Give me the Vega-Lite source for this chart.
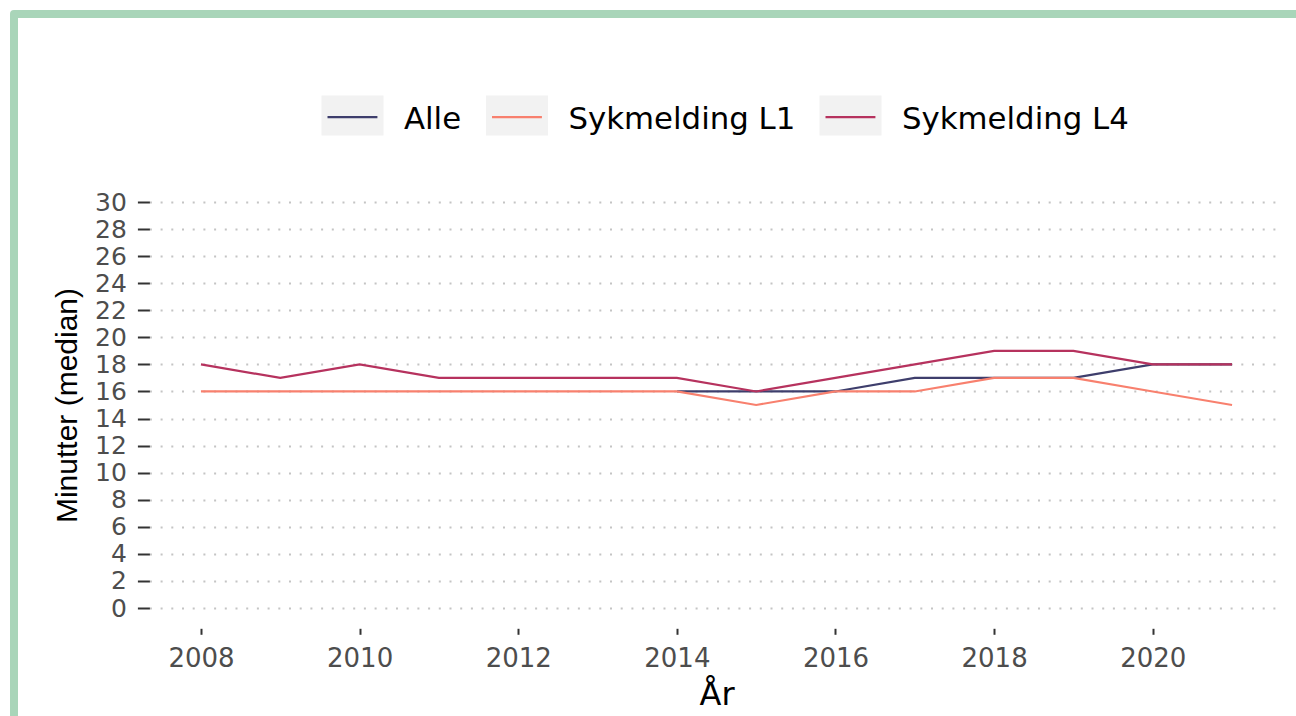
{
  "$schema": "https://vega.github.io/schema/vega-lite/v6.json",
  "width": 1286,
  "height": 706,
  "autosize": {"type": "none"},
  "padding": {"left": 14, "top": 14, "right": -4, "bottom": -4},
  "background": "white",
  "config": {
    "view": {"fill": "white", "stroke": "#a9d5b9", "strokeWidth": 8, "strokeJoin": "round", "cornerRadius": 0},
    "font": "DejaVu Sans"
  },
  "data": {
    "values": [
      {"ar": 2014, "serie": "Alle", "minutter": 16},
      {"ar": 2015, "serie": "Alle", "minutter": 16},
      {"ar": 2016, "serie": "Alle", "minutter": 16},
      {"ar": 2017, "serie": "Alle", "minutter": 17},
      {"ar": 2018, "serie": "Alle", "minutter": 17},
      {"ar": 2019, "serie": "Alle", "minutter": 17},
      {"ar": 2020, "serie": "Alle", "minutter": 18},
      {"ar": 2021, "serie": "Alle", "minutter": 18},
      {"ar": 2008, "serie": "Sykmelding L1", "minutter": 16},
      {"ar": 2009, "serie": "Sykmelding L1", "minutter": 16},
      {"ar": 2010, "serie": "Sykmelding L1", "minutter": 16},
      {"ar": 2011, "serie": "Sykmelding L1", "minutter": 16},
      {"ar": 2012, "serie": "Sykmelding L1", "minutter": 16},
      {"ar": 2013, "serie": "Sykmelding L1", "minutter": 16},
      {"ar": 2014, "serie": "Sykmelding L1", "minutter": 16},
      {"ar": 2015, "serie": "Sykmelding L1", "minutter": 15},
      {"ar": 2016, "serie": "Sykmelding L1", "minutter": 16},
      {"ar": 2017, "serie": "Sykmelding L1", "minutter": 16},
      {"ar": 2018, "serie": "Sykmelding L1", "minutter": 17},
      {"ar": 2019, "serie": "Sykmelding L1", "minutter": 17},
      {"ar": 2020, "serie": "Sykmelding L1", "minutter": 16},
      {"ar": 2021, "serie": "Sykmelding L1", "minutter": 15},
      {"ar": 2008, "serie": "Sykmelding L4", "minutter": 18},
      {"ar": 2009, "serie": "Sykmelding L4", "minutter": 17},
      {"ar": 2010, "serie": "Sykmelding L4", "minutter": 18},
      {"ar": 2011, "serie": "Sykmelding L4", "minutter": 17},
      {"ar": 2012, "serie": "Sykmelding L4", "minutter": 17},
      {"ar": 2013, "serie": "Sykmelding L4", "minutter": 17},
      {"ar": 2014, "serie": "Sykmelding L4", "minutter": 17},
      {"ar": 2015, "serie": "Sykmelding L4", "minutter": 16},
      {"ar": 2016, "serie": "Sykmelding L4", "minutter": 17},
      {"ar": 2017, "serie": "Sykmelding L4", "minutter": 18},
      {"ar": 2018, "serie": "Sykmelding L4", "minutter": 19},
      {"ar": 2019, "serie": "Sykmelding L4", "minutter": 19},
      {"ar": 2020, "serie": "Sykmelding L4", "minutter": 18},
      {"ar": 2021, "serie": "Sykmelding L4", "minutter": 18}
    ]
  },
  "mark": {"type": "line", "strokeWidth": 2.2},
  "encoding": {
    "x": {
      "field": "ar",
      "type": "quantitative",
      "scale": {"domain": [2007.35, 2021.65], "range": [135.4, 1269.6], "nice": false, "zero": false},
      "axis": {
        "title": "År",
        "values": [2008, 2010, 2012, 2014, 2016, 2018, 2020],
        "format": "d",
        "offset": -91.7,
        "domain": false,
        "grid": false,
        "tickSize": 6,
        "tickWidth": 2,
        "tickColor": "#333333",
        "labelFont": "DejaVu Sans",
        "labelFontSize": 26,
        "labelColor": "#4d4d4d",
        "labelPadding": 11,
        "labelFlush": false,
        "labelOverlap": false,
        "titleFont": "DejaVu Sans",
        "titleFontSize": 32,
        "titleFontWeight": "normal",
        "titleColor": "black",
        "titlePadding": 8
      }
    },
    "y": {
      "field": "minutter",
      "type": "quantitative",
      "scale": {"domain": [-1.5, 31.5], "range": [614.3, 167.7], "nice": false, "zero": false},
      "axis": {
        "title": "Minutter (median)",
        "values": [0, 2, 4, 6, 8, 10, 12, 14, 16, 18, 20, 22, 24, 26, 28, 30],
        "offset": -135.4,
        "domain": false,
        "grid": true,
        "gridColor": "#c4c4c4",
        "gridWidth": 2,
        "gridDash": [2, 8.7],
        "tickSize": 12,
        "tickWidth": 2,
        "tickColor": "#333333",
        "labelFont": "DejaVu Sans",
        "labelFontSize": 25,
        "labelColor": "#4d4d4d",
        "labelPadding": 11,
        "labelOverlap": false,
        "titleFont": "Liberation Sans",
        "titleFontSize": 30,
        "titleFontWeight": "normal",
        "titleColor": "black",
        "titlePadding": 12
      }
    },
    "color": {
      "field": "serie",
      "type": "nominal",
      "scale": {
        "domain": ["Alle", "Sykmelding L1", "Sykmelding L4"],
        "range": ["#3e3e6c", "#f8806e", "#b6325e"]
      },
      "legend": {
        "title": null,
        "orient": "none",
        "legendX": 306,
        "legendY": 69,
        "direction": "horizontal",
        "columns": 3,
        "padding": 0,
        "symbolType": "M-0.806,0.05H0.806H1V0.645H-1V-0.645H1V0.05Z",
        "symbolSize": 3844,
        "symbolOffset": 0,
        "symbolStrokeWidth": 2.2,
        "symbolDash": [49.9, 2000],
        "symbolFillColor": "#f2f2f2",
        "labelOffset": 19,
        "columnPadding": 19.5,
        "labelFont": "DejaVu Sans",
        "labelFontSize": 30.8,
        "labelColor": "black",
        "labelLimit": 0,
        "encode": {
          "labels": {"update": {"dy": {"value": 4}}}
        }
      }
    }
  }
}
